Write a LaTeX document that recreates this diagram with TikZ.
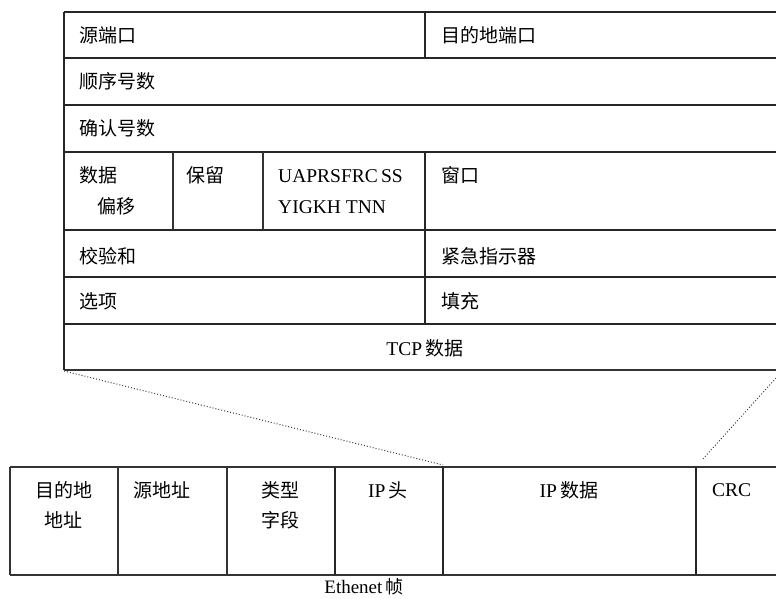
\documentclass[tikz,border=0pt]{standalone}
\usepackage{fontspec}
\setmainfont{Liberation Serif}
\newfontfamily\cjk{Noto Sans CJK SC}
\begin{document}
\begin{tikzpicture}[x=1pt,y=-1pt,
  thickln/.style={line width=2pt,black!85},
  thinln/.style={line width=1.1pt,black!80},
  lbl/.style={inner sep=0pt,font=\cjk\fontsize{19}{22}\selectfont},
  lat/.style={inner sep=0pt,font=\fontsize{19.5}{22}\selectfont},
  dots/.style={dotted,line width=1pt,black!75}]
\useasboundingbox (0,0) rectangle (776,598);
% top table
\foreach \y in {12,58,105,152,230,277,324}{\draw[thickln] (64,\y) -- (776,\y);}
\draw[thinln] (64,370) -- (776,370);
\draw[thickln] (64,12) -- (64,370);
\draw[thickln] (425,12) -- (425,58);
\draw[thickln] (425,152) -- (425,324);
\draw[thinln] (173,152) -- (173,230);
\draw[thinln] (263,152) -- (263,230);
% texts
\node[lbl,anchor=west] (srcport) at (79,35) {源端口};
\node[lbl,anchor=west] (dstport) at (441,35) {目的地端口};
\node[lbl,anchor=west] (seq) at (79,81) {顺序号数};
\node[lbl,anchor=west] (ack) at (79,128) {确认号数};
\node[lbl,anchor=west] (off1) at (79,175) {数据};
\node[lbl,anchor=west] (off2) at (97,206) {偏移};
\node[lbl,anchor=west] (rsv) at (186,175) {保留};
\node[lat,anchor=west] (flags1) at (278,176) {UAPRSFRC\,SS};
\node[lat,anchor=west] (flags2) at (278,207) {YIGKH TNN};
\node[lbl,anchor=west] (win) at (441,175) {窗口};
\node[lbl,anchor=west] (chk) at (79,256) {校验和};
\node[lbl,anchor=west] (urg) at (441,256) {紧急指示器};
\node[lbl,anchor=west] (opt) at (79,301) {选项};
\node[lbl,anchor=west] (pad) at (441,301) {填充};
\node[inner sep=0pt] (tcpdata) at (425,348) {\fontsize{19.5}{22}\selectfont TCP\,{\cjk\fontsize{19}{22}\selectfont 数据}};
% bottom frame
\draw[thinln] (10,467) -- (776,467);
\draw[thinln] (10,575) -- (776,575);
\foreach \x in {10,118,227}{\draw[thinln] (\x,467) -- (\x,575);}
\foreach \x in {335,443,696}{\draw[thickln] (\x,467) -- (\x,575);}
\node[lbl] (dst1) at (64,490) {目的地};
\node[lbl] (dst2) at (63,520) {地址};
\node[lbl,anchor=west] (src) at (133,490) {源地址};
\node[lbl] (type1) at (280,490) {类型};
\node[lbl] (type2) at (280,520) {字段};
\node[inner sep=0pt] (iphdr) at (388,490) {\fontsize{19.5}{22}\selectfont IP\,{\cjk\fontsize{19}{22}\selectfont 头}};
\node[inner sep=0pt] (ipdata) at (569,490) {\fontsize{19.5}{22}\selectfont IP\,{\cjk\fontsize{19}{22}\selectfont 数据}};
\node[lat,anchor=west] (crc) at (712,490) {CRC};
\node[inner sep=0pt] (eth) at (364,587) {\fontsize{19}{22}\selectfont Ethenet\,{\cjk\fontsize{18}{22}\selectfont 帧}};
% zoom lines
\coordinate (tl) at (64,371);
\coordinate (ipl) at (443,465);
\coordinate (tr) at (776,378);
\coordinate (crcl) at (702,460);
\draw[dots] (tl) -- (ipl);
\draw[dots] (tr) -- (crcl);
\end{tikzpicture}
\end{document}
